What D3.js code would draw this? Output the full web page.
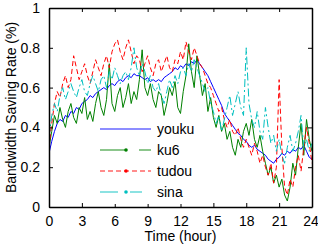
<!DOCTYPE html>
<html lang="en">
<head>
    <meta charset="UTF-8">
    <title>bandwidth saving rate</title>
    <script src="https://d3js.org/d3.v7.min.js"></script>
    <style>
        body { margin: 0; background: #fff; }
        text { font-family: "Liberation Sans", Arial, sans-serif; }
    </style>
</head>
<body>
    <svg></svg>
    <script>
        const w = 318;
        const h = 248;

        // hours 0..24, every 15 minutes
        const hours = d3.range(0, 24.001, 0.25);
        const youku = [0.27,0.33,0.38,0.42,0.44,0.43,0.46,0.45,0.48,0.47,0.50,0.49,0.52,0.53,0.54,0.56,
            0.55,0.57,0.58,0.59,0.60,0.59,0.61,0.62,0.61,0.63,0.64,0.63,0.65,0.66,0.65,0.67,
            0.66,0.66,0.65,0.64,0.65,0.63,0.64,0.63,0.64,0.63,0.65,0.66,0.67,0.68,0.70,0.69,
            0.71,0.70,0.72,0.71,0.73,0.72,0.74,0.72,0.70,0.68,0.66,0.63,0.60,0.57,0.54,0.51,
            0.47,0.45,0.43,0.41,0.39,0.37,0.36,0.34,0.33,0.31,0.30,0.31,0.29,0.28,0.27,0.26,
            0.24,0.23,0.22,0.24,0.25,0.27,0.26,0.28,0.27,0.29,0.28,0.30,0.29,0.31,0.28,0.25,0.24];
        const ku6 = [0.30,0.38,0.46,0.42,0.50,0.44,0.40,0.48,0.52,0.45,0.42,0.50,0.47,0.55,0.44,0.48,
            0.43,0.52,0.58,0.50,0.46,0.54,0.72,0.52,0.48,0.56,0.60,0.50,0.55,0.62,0.52,0.58,
            0.54,0.64,0.79,0.60,0.56,0.62,0.54,0.50,0.58,0.56,0.46,0.52,0.60,0.56,0.63,0.50,
            0.47,0.58,0.66,0.82,0.68,0.60,0.76,0.66,0.56,0.62,0.48,0.55,0.45,0.40,0.46,0.38,
            0.42,0.34,0.38,0.30,0.26,0.34,0.30,0.38,0.42,0.36,0.44,0.34,0.30,0.36,0.28,0.22,
            0.16,0.20,0.12,0.16,0.10,0.14,0.06,0.03,0.10,0.22,0.16,0.30,0.42,0.26,0.44,0.34,0.28];
        const tudou = [0.30,0.42,0.52,0.58,0.55,0.62,0.66,0.60,0.64,0.76,0.70,0.64,0.68,0.72,0.66,0.62,
            0.68,0.74,0.70,0.66,0.72,0.76,0.70,0.78,0.82,0.84,0.78,0.74,0.80,0.84,0.78,0.72,
            0.76,0.74,0.68,0.72,0.76,0.70,0.66,0.72,0.74,0.68,0.72,0.76,0.70,0.68,0.74,0.72,
            0.78,0.74,0.83,0.78,0.74,0.80,0.76,0.72,0.70,0.66,0.62,0.60,0.56,0.52,0.48,0.50,
            0.44,0.40,0.44,0.38,0.36,0.40,0.34,0.30,0.34,0.30,0.26,0.32,0.28,0.22,0.26,0.20,
            0.16,0.22,0.12,0.20,0.64,0.30,0.10,0.06,0.14,0.10,0.20,0.26,0.18,0.30,0.40,0.32,0.22];
        const sina = [0.35,0.46,0.52,0.48,0.56,0.60,0.54,0.58,0.62,0.58,0.55,0.60,0.64,0.58,0.56,0.62,
            0.66,0.62,0.58,0.64,0.66,0.60,0.68,0.64,0.70,0.66,0.62,0.66,0.68,0.64,0.70,0.80,
            0.70,0.66,0.72,0.68,0.62,0.66,0.60,0.58,0.62,0.56,0.52,0.58,0.64,0.60,0.66,0.62,
            0.68,0.70,0.66,0.72,0.68,0.74,0.70,0.66,0.62,0.58,0.60,0.52,0.48,0.42,0.46,0.38,
            0.44,0.50,0.56,0.46,0.52,0.58,0.50,0.46,0.80,0.52,0.44,0.40,0.48,0.38,0.34,0.50,
            0.40,0.32,0.36,0.28,0.34,0.26,0.22,0.30,0.36,0.28,0.32,0.38,0.46,0.30,0.34,0.28,0.32];

        const xTicks = [0, 3, 6, 9, 12, 15, 18, 21, 24];
        const yTicks = [0, 0.2, 0.4, 0.6, 0.8, 1];

        const series = [
            { name: 'youku', values: youku, color: '#0000ff', dash: null, legendDash: null, dot: false },
            { name: 'ku6', values: ku6, color: '#008000', dash: null, legendDash: '27,12,12', dot: true },
            { name: 'tudou', values: tudou, color: '#ff0000', dash: '5,3', legendDash: '5,3', dot: true },
            { name: 'sina', values: sina, color: '#00bfbf', dash: '8,3,2,3', legendDash: '18,12,12', dot: true }
        ];

        const m = { left: 49, right: 6, top: 8, bottom: 41 };

        const svg = d3.select('svg')
            .attr('width', w)
            .attr('height', h);

        const x = d3.scaleLinear().domain([0, 24]).range([m.left, w - m.right]);
        const y = d3.scaleLinear().domain([0, 1]).range([h - m.bottom, m.top]);

        svg.append('defs').append('clipPath').attr('id', 'clip')
            .append('rect')
            .attr('x', m.left).attr('y', m.top)
            .attr('width', w - m.left - m.right)
            .attr('height', h - m.top - m.bottom);

        const line = d3.line()
            .x((d, i) => x(hours[i]))
            .y(d => y(d));

        const lines = svg.append('g').attr('clip-path', 'url(#clip)');
        series.forEach(s => {
            lines.append('path')
                .datum(s.values)
                .attr('fill', 'none')
                .attr('stroke', s.color)
                .attr('stroke-width', 1)
                .attr('stroke-dasharray', s.dash)
                .attr('d', line);
        });

        // axes with inward ticks on all four sides
        const fmt = d => d === 0 || d === 1 ? d3.format('d')(d) : d3.format('.1f')(d);
        const axBottom = svg.append('g')
            .attr('transform', `translate(0, ${h - m.bottom})`)
            .call(d3.axisBottom(x).tickValues(xTicks).tickSizeInner(-4).tickSizeOuter(0).tickPadding(9));
        const axLeft = svg.append('g')
            .attr('transform', `translate(${m.left}, 0)`)
            .call(d3.axisLeft(y).tickValues(yTicks).tickFormat(fmt).tickSizeInner(-4).tickSizeOuter(0).tickPadding(9));
        const axTop = svg.append('g')
            .attr('transform', `translate(0, ${m.top})`)
            .call(d3.axisTop(x).tickValues(xTicks).tickSizeInner(-4).tickSizeOuter(0).tickFormat(''));
        const axRight = svg.append('g')
            .attr('transform', `translate(${w - m.right}, 0)`)
            .call(d3.axisRight(y).tickValues(yTicks).tickSizeInner(-4).tickSizeOuter(0).tickFormat(''));

        [axBottom, axLeft, axTop, axRight].forEach(a => {
            a.select('.domain').attr('stroke', '#000').attr('stroke-width', 1.5);
            a.selectAll('.tick line').attr('stroke', '#000');
            a.selectAll('text').attr('font-size', 14).attr('fill', '#000')
                .style('font-family', '"Liberation Sans", Arial, sans-serif');
        });
        // keep the last label inside the window
        axBottom.selectAll('.tick text').filter(d => d === 24).attr('dx', -1.5);

        svg.append('text')
            .attr('x', (m.left + w - m.right) / 2)
            .attr('y', 241)
            .attr('text-anchor', 'middle')
            .attr('font-size', 14)
            .text('Time (hour)');

        svg.append('text')
            .attr('transform', `translate(16, ${(m.top + h - m.bottom) / 2}) rotate(-90)`)
            .attr('text-anchor', 'middle')
            .attr('font-size', 14)
            .text('Bandwidth Saving Rate (%)');

        // legend
        const lg = svg.append('g');
        lg.append('rect')
            .attr('x', 95).attr('y', 116)
            .attr('width', 110).attr('height', 88)
            .attr('fill', '#fff');
        series.forEach((s, i) => {
            const ly = 129 + i * 21;
            lg.append('line')
                .attr('x1', 100).attr('x2', 151)
                .attr('y1', ly).attr('y2', ly)
                .attr('stroke', s.color)
                .attr('stroke-opacity', 0.6)
                .attr('stroke-width', 1.5)
                .attr('stroke-dasharray', s.legendDash);
            if (s.dot) {
                lg.append('circle')
                    .attr('cx', 126).attr('cy', ly)
                    .attr('r', 1.8)
                    .attr('fill', s.color);
            }
            lg.append('text')
                .attr('x', 157).attr('y', ly + 5)
                .attr('font-size', 14)
                .text(s.name);
        });
    </script>
</body>
</html>
